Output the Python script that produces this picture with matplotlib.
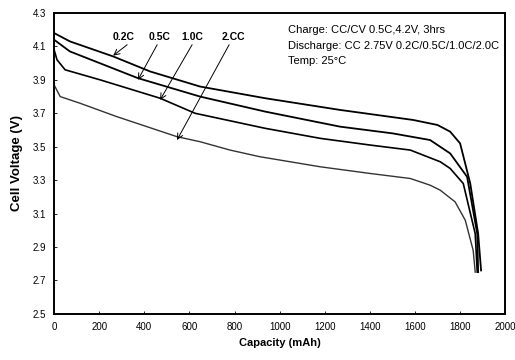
import numpy as np
import matplotlib
matplotlib.use("Agg")
import matplotlib.pyplot as plt

plt.rcParams['font.family'] = ['Liberation Sans', 'DejaVu Sans']

# discharge curves (capacity mAh, voltage V)
cap_02 = [0, 70, 262, 426, 647, 936, 1268, 1592, 1700, 1756, 1800, 1845, 1880, 1893]
v_02 = [4.18, 4.13, 4.04, 3.95, 3.86, 3.79, 3.72, 3.66, 3.63, 3.59, 3.52, 3.28, 2.98, 2.76]

cap_05 = [0, 70, 372, 647, 936, 1268, 1500, 1667, 1756, 1831, 1876, 1880]
v_05 = [4.14, 4.07, 3.91, 3.80, 3.71, 3.62, 3.58, 3.54, 3.46, 3.32, 2.98, 2.75]

cap_10 = [0, 13, 49, 204, 470, 625, 936, 1180, 1401, 1579, 1712, 1756, 1814, 1867, 1876]
v_10 = [4.08, 4.02, 3.96, 3.90, 3.79, 3.70, 3.61, 3.55, 3.51, 3.48, 3.41, 3.37, 3.28, 2.98, 2.75]

cap_20 = [0, 27, 115, 278, 545, 647, 780, 913, 1180, 1401, 1579, 1667, 1712, 1778, 1823, 1858, 1867]
v_20 = [3.87, 3.80, 3.76, 3.68, 3.56, 3.53, 3.48, 3.44, 3.38, 3.34, 3.31, 3.27, 3.24, 3.17, 3.06, 2.88, 2.75]

rate_labels = ['0.2C', '0.5C', '1.0C', '2.CC']
x_ticks = np.arange(0, 2001, 200)
y_ticks = np.arange(2.5, 4.31, 0.2)

fig = plt.figure(figsize=(5.15, 3.6), dpi=100)
ax = fig.add_axes([0.105, 0.128, 0.876, 0.836])

ax.plot(cap_02, v_02, color='black', lw=1.3)
ax.plot(cap_05, v_05, color='black', lw=1.3)
ax.plot(cap_10, v_10, color='black', lw=1.2)
ax.plot(cap_20, v_20, color='#333333', lw=1.0)

ax.set_xlim(0, 2000)
ax.set_ylim(2.5, 4.3)
ax.set_xticks(x_ticks)
ax.set_yticks(y_ticks)
ax.set_yticklabels([f'{v:.1f}' for v in y_ticks])
ax.tick_params(direction='in', length=2, width=0.6, labelsize=7, pad=6)
for s in ax.spines.values():
    s.set_linewidth(1.4)

ax.set_xlabel('Capacity (mAh)', fontsize=8, fontweight='bold', labelpad=4)
ax.set_ylabel('Cell Voltage (V)', fontsize=9.5, fontweight='bold', labelpad=7)

# rate labels with arrows
label_x = [306, 466, 612, 794]
tail_x = [324, 457, 612, 776]
tips = [(262, 4.045), (372, 3.90), (470, 3.78), (545, 3.54)]
for lab, lx, tx, tip in zip(rate_labels, label_x, tail_x, tips):
    ax.text(lx, 4.156, lab, fontsize=7.5, fontweight='bold', ha='center', va='center')
    ax.annotate('', xy=tip, xytext=(tx, 4.11),
                arrowprops=dict(arrowstyle='->', lw=0.7, color='black',
                                shrinkA=0, shrinkB=0))

info = ['Charge: CC/CV 0.5C,4.2V, 3hrs',
        'Discharge: CC 2.75V 0.2C/0.5C/1.0C/2.0C',
        'Temp: 25\u00b0C']
for i, line in enumerate(info):
    ax.text(1035, 4.20 - i * 0.095, line, fontsize=8, ha='left', va='center')

fig.savefig('out.png', dpi=100)
